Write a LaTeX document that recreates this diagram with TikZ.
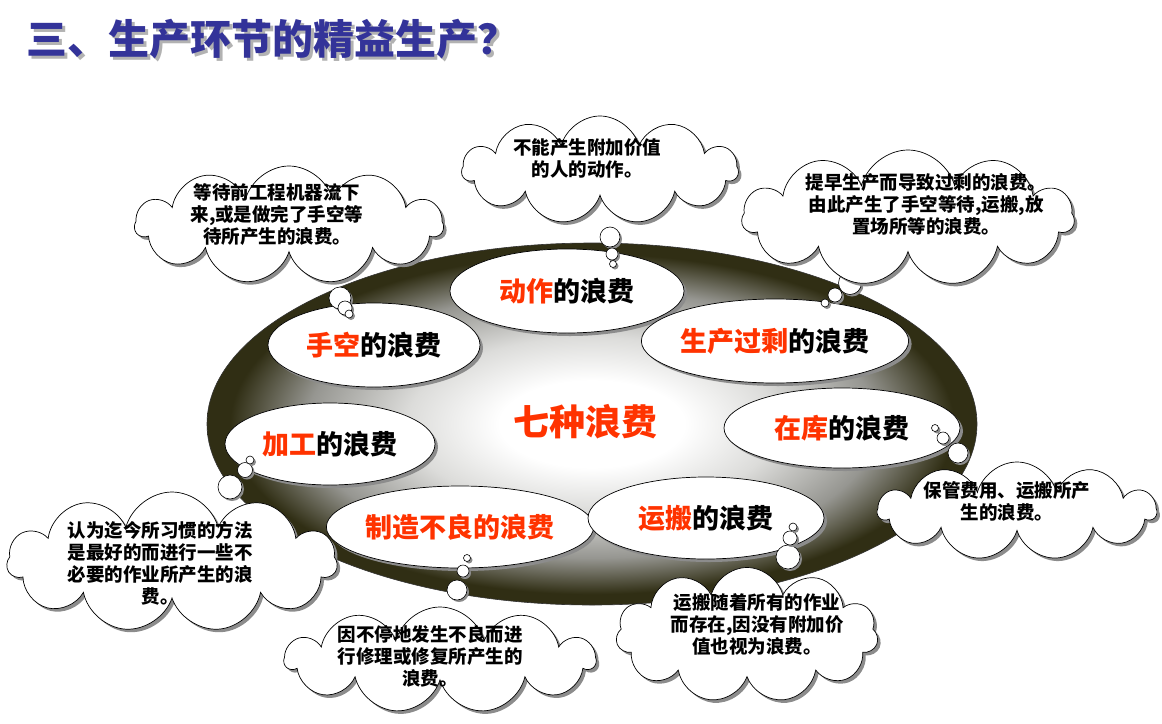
\documentclass[tikz,border=0pt]{standalone}
\usepackage{fontspec}
\newfontfamily\cjk{Noto Sans CJK SC}
\usetikzlibrary{shapes.geometric,shapes.symbols,shadows}
\definecolor{wred}{HTML}{FF3300}
\definecolor{ttl}{HTML}{333399}
\definecolor{olivedark}{RGB}{48,46,20}
\definecolor{midgray}{RGB}{150,150,145}
\definecolor{lightg}{RGB}{220,220,218}
\pgfdeclareradialshading{bowl}{\pgfpoint{0bp}{0bp}}{color(0bp)=(white); color(6bp)=(white); color(12bp)=(lightg); color(18.5bp)=(midgray); color(23.5bp)=(olivedark); color(25bp)=(olivedark); color(50bp)=(olivedark)}
\tikzset{
  waste/.style={ellipse, draw=black, line width=0.7pt, fill=white, inner sep=0pt,
    drop shadow={shadow xshift=3pt, shadow yshift=-3pt, fill=black!45, opacity=1},
    font=\cjk\bfseries\fontsize{27}{30}\selectfont},
  cloudbox/.style={cloud, cloud puffs=11, cloud ignores aspect, draw=black, line width=0.7pt, fill=white, inner sep=0pt,
    drop shadow={shadow xshift=3pt, shadow yshift=-3pt, fill=black!45, opacity=1}},
  cloudtext/.style={align=center, font=\cjk\bfseries\fontsize{18.5}{22}\selectfont, inner sep=0pt},
  bub/.style={circle, draw=black, line width=0.6pt, fill=white, inner sep=0pt,
    drop shadow={shadow xshift=2pt, shadow yshift=-2pt, fill=black!45, opacity=1}},
  titlefont/.style={font=\cjk\bfseries\fontsize{41}{44}\selectfont, inner sep=0pt, anchor=west},
}
\begin{document}
\begin{tikzpicture}[x=1pt,y=-1pt]
\useasboundingbox (0,0) rectangle (1162,723);
\fill[white] (0,0) rectangle (1162,723);
% title
\node[titlefont, text=black!30] (titleshadow) at (29,42) {三、生产环节的精益生产？};
\node[titlefont, text=ttl] (title) at (26,39) {三、生产环节的精益生产？};
% big bowl
\node[ellipse, minimum width=770pt, minimum height=362pt, shading=bowl, draw=black!80, line width=0.6pt] (bowl) at (592,424) {};
\node[font=\cjk\bfseries\fontsize{36}{38}\selectfont, text=wred] (center) at (585,422) {七种浪费};
% waste ellipses
\node[waste, minimum width=234pt, minimum height=84pt] (dongzuo) at (567,291) {\textcolor{wred}{动作}的浪费};
\node[waste, minimum width=212pt, minimum height=84pt] (shoukong) at (374,345) {\textcolor{wred}{手空}的浪费};
\node[waste, minimum width=230pt, minimum height=84pt] (guosheng) at (775,341) {\textcolor{wred}{生产过剩}的浪费};
\node[waste, minimum width=236pt, minimum height=80pt] (zaiku) at (842,428) {\textcolor{wred}{在库}的浪费};
\node[waste, minimum width=210pt, minimum height=82pt] (jiagong) at (330,444) {\textcolor{wred}{加工}的浪费};
\node[waste, minimum width=234pt, minimum height=82pt] (buliang) at (460,527) {\textcolor{wred}{制造不良的浪费}};
\node[waste, minimum width=236pt, minimum height=82pt] (yunban) at (706,518) {\textcolor{wred}{运搬}的浪费};
% bubbles
\node[bub, minimum size=20pt] (b1a) at (610,237) {};
\node[bub, minimum size=12pt] (b1b) at (612,254) {};
\node[bub, minimum size=7pt] (b1c) at (613,264) {};
\node[bub, minimum size=22pt] (b2a) at (340,298) {};
\node[bub, minimum size=14pt] (b2b) at (345,308) {};
\node[bub, minimum size=8pt] (b2c) at (349,314) {};
\node[bub, minimum size=23pt] (b3a) at (850,283) {};
\node[bub, minimum size=14pt] (b3b) at (835,295) {};
\node[bub, minimum size=8pt] (b3c) at (825,303) {};
\node[bub, minimum size=7pt] (b4c) at (935,428) {};
\node[bub, minimum size=12pt] (b4b) at (943,438) {};
\node[bub, minimum size=20pt] (b4a) at (958,453) {};
\node[bub, minimum size=24pt] (b5a) at (230,487) {};
\node[bub, minimum size=15pt] (b5b) at (245,470) {};
\node[bub, minimum size=8pt] (b5c) at (250,460) {};
\node[bub, minimum size=20pt] (b6a) at (457,590) {};
\node[bub, minimum size=12pt] (b6b) at (463,571) {};
\node[bub, minimum size=7pt] (b6c) at (467,558) {};
\node[bub, minimum size=24pt] (b7a) at (788,557) {};
\node[bub, minimum size=14pt] (b7b) at (790,538) {};
\node[bub, minimum size=8pt] (b7c) at (793,527) {};
% clouds
\node[cloudbox, minimum width=276pt, minimum height=108pt] (c1) at (600,170) {};
\node[cloudtext] (t1) at (587,158) {不能产生附加价值\\的人的动作。};
\node[cloudbox, minimum width=308pt, minimum height=118pt] (c2) at (289,225) {};
\node[cloudtext] (t2) at (277,215) {等待前工程机器流下\\来,或是做完了手空等\\待所产生的浪费。};
\node[cloudbox, minimum width=332pt, minimum height=136pt] (c3) at (908,218) {};
\node[cloudtext] (t3) at (926,204) {提早生产而导致过剩的浪费。\\由此产生了手空等待,运搬,放\\置场所等的浪费。};
\node[cloudbox, minimum width=278pt, minimum height=98pt] (c4) at (1017,511) {};
\node[cloudtext] (t4) at (1007,501) {保管费用、运搬所产\\生的浪费。};
\node[cloudbox, minimum width=330pt, minimum height=140pt] (c5) at (172,562) {};
\node[cloudtext] (t5) at (160,563) {认为迄今所习惯的方法\\是最好的而进行一些不\\必要的作业所产生的浪\\费。};
\node[cloudbox, minimum width=310pt, minimum height=106pt] (c6) at (440,660) {};
\node[cloudtext] (t6) at (430,656) {因不停地发生不良而进\\行修理或修复所产生的\\浪费。};
\node[cloudbox, minimum width=262pt, minimum height=135pt] (c7) at (747,635) {};
\node[cloudtext] (t7) at (757,624) {运搬随着所有的作业\\而存在,因没有附加价\\值也视为浪费。};
\end{tikzpicture}
\end{document}
